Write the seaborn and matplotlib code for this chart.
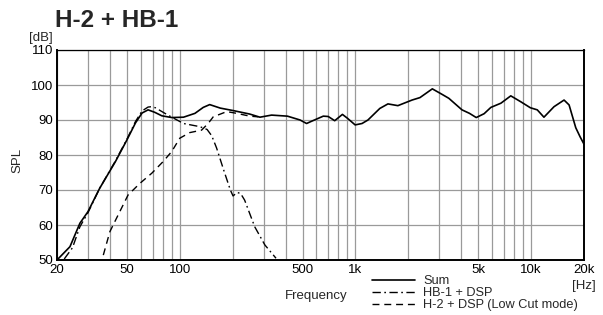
import numpy as np
import pandas as pd
import seaborn as sns
import matplotlib.pyplot as plt

# --- valeurs ---
sum_freq = [20, 23.7, 27, 30, 35, 43, 50, 56, 61, 66, 72, 79, 90, 105, 122, 136, 148, 170, 201,
            250, 286, 333, 410, 484, 527, 560, 656, 700, 762, 843, 900, 996, 1090, 1178, 1376,
            1531, 1744, 2100, 2329, 2739, 3118, 3400, 4040, 4458, 4870, 5400, 5900, 6730, 7660,
            8740, 9900, 10840, 11830, 13500, 15400, 16450, 17950, 19000, 20000]
sum_db = [50, 53.8, 60.5, 63.8, 70.5, 78.1, 84.3, 89.2, 92.0, 92.9, 92.2, 91.2, 90.7, 90.8, 91.9,
          93.6, 94.4, 93.4, 92.7, 91.7, 90.8, 91.4, 91.1, 90.0, 89.0, 89.6, 91.1, 91.0, 89.8,
          91.6, 90.5, 88.6, 89.0, 90.0, 93.3, 94.6, 94.1, 95.7, 96.4, 98.9, 97.3, 96.2, 92.9,
          91.9, 90.7, 91.8, 93.6, 94.8, 96.9, 95.2, 93.5, 92.9, 90.8, 93.8, 95.7, 94.3, 87.8,
          85.2, 83.1]

hb1_freq = [22, 24.5, 27, 30, 35, 43, 50, 56, 61, 66, 69, 72.6, 85.6, 105, 130, 143, 152, 162,
            177, 194, 201, 212, 222, 234, 267, 305, 353]
hb1_db = [50.3, 53.5, 59.5, 63.5, 70.5, 78.3, 84.5, 89.6, 92.6, 93.7, 93.8, 93.5, 91.4, 89.0,
          88.1, 87.3, 85.5, 82.0, 76.0, 70.0, 68.3, 69.3, 69.0, 67.1, 59.5, 54.3, 50.5]

h2_freq = [36.7, 40, 43.6, 50.8, 59.3, 69.3, 80.3, 90, 100, 114, 133, 145, 155, 185, 211,
           250, 280]
h2_db = [51.4, 58.1, 61.9, 68.6, 71.9, 74.8, 78.1, 81.0, 84.8, 86.4, 87.1, 89.0, 90.9, 92.4,
         91.9, 91.1, 90.9]

grid_freq = [20, 30, 40, 50, 60, 70, 80, 90, 100, 200, 300, 400, 500, 600, 700, 800, 900,
             1000, 2000, 3000, 4000, 5000, 6000, 7000, 8000, 9000, 10000, 20000]
tick_labels = {20: "20", 50: "50", 100: "100", 500: "500", 1000: "1k", 5000: "5k",
               10000: "10k", 20000: "20k"}
y_ticks = [50, 60, 70, 80, 90, 100, 110]

sns.set_style("white")
plt.rcParams["font.family"] = ["Liberation Sans", "DejaVu Sans"]

fig = plt.figure(figsize=(6.03, 3.15), dpi=100)
ax = fig.add_axes([57 / 603, 1 - 260 / 315, 527 / 603, 210 / 315])

sns.lineplot(x=h2_freq, y=h2_db, ax=ax, color="black", linewidth=1.0,
             linestyle=(0, (5, 3.5)), label="H-2 + DSP (Low Cut mode)")
sns.lineplot(x=hb1_freq, y=hb1_db, ax=ax, color="black", linewidth=1.0,
             linestyle=(0, (6, 2.5, 1.2, 2.5)), label="HB-1 + DSP")
sns.lineplot(x=sum_freq, y=sum_db, ax=ax, color="black", linewidth=1.2, label="Sum")

ax.set_xscale("log")
ax.set_xlim(20, 20000)
ax.set_ylim(50, 110)
ax.set_xticks(grid_freq)
ax.set_xticklabels([tick_labels.get(f, "") for f in grid_freq])
ax.minorticks_off()
ax.set_yticks(y_ticks)
ax.set_yticklabels([str(v) for v in y_ticks])
ax.tick_params(length=0, labelsize=9.5, colors="black")
ax.tick_params(axis="y", pad=3)
ax.tick_params(axis="x", pad=3)
ax.grid(True, color="#9a9a9a", linewidth=0.9)
ax.set_axisbelow(True)
for side, sp in ax.spines.items():
    sp.set_visible(True)
    sp.set_color("black")
    sp.set_linewidth(1.4 if side in ("left", "bottom", "right") else 0.9)
ax.set_xlabel("")
ax.set_ylabel("")

# textes
fig.text(55 / 603, 1 - 27 / 315, "H-2 + HB-1", fontsize=17.5, fontweight="bold", va="baseline")
fig.text(41 / 603, 1 - 38 / 315, "[dB]", fontsize=9.5, ha="center", va="center")
fig.text(17 / 603, 1 - 160 / 315, "SPL", fontsize=9.5, ha="center", va="center", rotation=90)
fig.text(316 / 603, 1 - 296 / 315, "Frequency", fontsize=9.5, ha="center", va="center")
fig.text(584 / 603, 1 - 286 / 315, "[Hz]", fontsize=9.5, ha="center", va="center")

handles, labels = ax.get_legend_handles_labels()
order = [labels.index(l) for l in ["Sum", "HB-1 + DSP", "H-2 + DSP (Low Cut mode)"]]
ax.legend([handles[i] for i in order], [labels[i] for i in order],
          loc="upper left", bbox_to_anchor=(372 / 603, 1 - 275 / 315),
          bbox_transform=fig.transFigure, frameon=False, fontsize=9.2,
          handlelength=3.4, handletextpad=0.6, labelspacing=0.0,
          borderpad=0, borderaxespad=0)

fig.savefig("out.png", dpi=100)
